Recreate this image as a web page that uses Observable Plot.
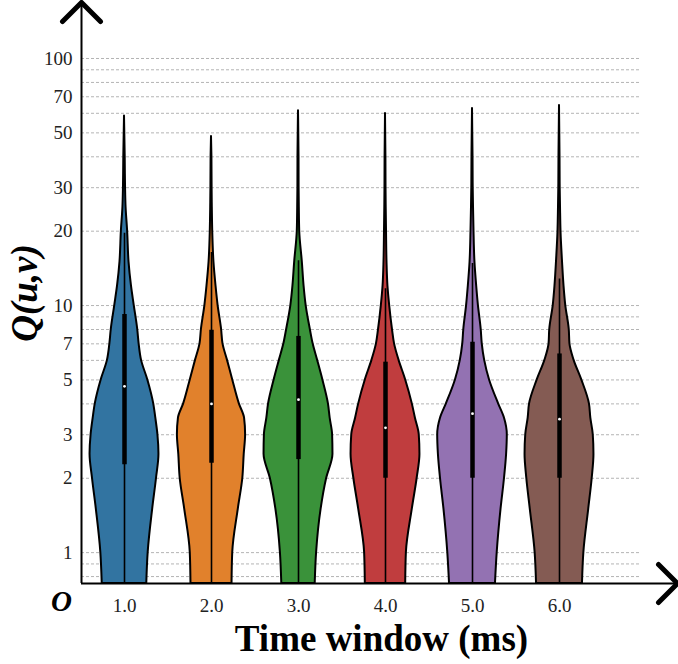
<!DOCTYPE html>
<html>
<head>
<meta charset="utf-8">
<script src="https://cdn.jsdelivr.net/npm/d3@7"></script>
<script src="https://cdn.jsdelivr.net/npm/@observablehq/plot@0.6"></script>
<style>
  html, body { margin: 0; padding: 0; background: #fff; }
</style>
</head>
<body>
<div id="chart"></div>
<script>
// ---- data ----
const categories = [1, 2, 3, 4, 5, 6];
const categoryLabels = ["1.0", "2.0", "3.0", "4.0", "5.0", "6.0"];
const colors = ["#3274a1", "#e1812c", "#3a923a", "#c03d3e", "#9372b2", "#845b53"];

// Q(u,v) values at which the violin widths were read
const qGrid = [0.75, 1, 1.5, 2, 2.5, 3, 3.5, 4, 5, 6, 7, 8, 10, 12, 15, 20, 25, 30, 40];
// top end of each violin
const qTop = [58.5, 48.3, 61.5, 59.9, 62.8, 64.5];
// relative density (violin half-width, 1 = widest)
const density1 = [0.64, 0.68, 0.81, 0.92, 0.99, 0.96, 0.90, 0.84, 0.67, 0.49, 0.42, 0.38, 0.28, 0.20, 0.13, 0.09, 0.045, 0.03, 0.02];
const density2 = [0.59, 0.61, 0.77, 0.90, 0.94, 0.98, 0.95, 0.80, 0.61, 0.46, 0.33, 0.29, 0.19, 0.13, 0.07, 0.035, 0.023, 0.017, 0.012];
const density3 = [0.48, 0.52, 0.65, 0.81, 0.99, 0.98, 0.91, 0.86, 0.70, 0.55, 0.42, 0.34, 0.22, 0.16, 0.11, 0.035, 0.023, 0.017, 0.015];
const density4 = [0.58, 0.60, 0.77, 0.91, 0.99, 0.97, 0.86, 0.77, 0.58, 0.39, 0.26, 0.20, 0.12, 0.07, 0.043, 0.029, 0.02, 0.015, 0.012];
const density5 = [0.66, 0.71, 0.82, 0.92, 0.98, 1.00, 0.92, 0.75, 0.49, 0.35, 0.28, 0.25, 0.17, 0.12, 0.07, 0.043, 0.029, 0.02, 0.015];
const density6 = [0.66, 0.70, 0.84, 0.94, 0.99, 0.97, 0.90, 0.86, 0.64, 0.42, 0.30, 0.28, 0.18, 0.13, 0.087, 0.043, 0.029, 0.02, 0.015];
const densities = [density1, density2, density3, density4, density5, density6];

// inner box statistics
const whiskerLow = [0.75, 0.75, 0.75, 0.75, 0.75, 0.75];
const quartile1 = [2.27, 2.3, 2.38, 2.0, 2.0, 2.0];
const median = [4.71, 4.0, 4.16, 3.2, 3.65, 3.47];
const quartile3 = [9.2, 7.95, 7.5, 5.9, 7.1, 6.37];
const whiskerHigh = [19.6, 16.4, 15.2, 11.7, 14.8, 12.8];

// axes
const yTickLabels = [1, 2, 3, 5, 7, 10, 20, 30, 50, 70, 100];
const yGridLines = [0.8, 0.9, 1, 2, 3, 4, 5, 6, 7, 8, 9, 10, 20, 30, 40, 50, 60, 70, 80, 90, 100];
const xDomain = [0.5057, 7.3563];
const yDomain = [0.75, 168.5];
const gridEnd = 6.93;
const halfWidth = 0.4; // seaborn width 0.8

// ---- build tables ----
const violinRows = [];
categories.forEach((c, i) => {
  qGrid.forEach((q, j) => violinRows.push({cat: c, color: colors[i], q, w: densities[i][j]}));
  violinRows.push({cat: c, color: colors[i], q: qTop[i], w: 0});
});
const boxRows = categories.map((c, i) => ({
  cat: c, lo: whiskerLow[i], q1: quartile1[i], med: median[i], q3: quartile3[i], hi: whiskerHigh[i]
}));

const chevron = {
  draw(context, size) {
    const s = Math.sqrt(size / Math.PI);
    context.moveTo(-s, s);
    context.lineTo(0, 0);
    context.lineTo(s, s);
  }
};

const serif = "'Liberation Serif', 'DejaVu Serif', serif";

const chart = Plot.plot({
  width: 678,
  height: 664,
  marginLeft: 81,
  marginRight: 1,
  marginTop: 2,
  marginBottom: 81,
  style: {fontFamily: serif, fontSize: "19px", color: "#222", background: "#fff"},
  x: {type: "linear", domain: xDomain, axis: null},
  y: {type: "log", domain: yDomain, axis: null},
  marks: [
    Plot.ruleY(yGridLines, {x1: xDomain[0], x2: gridEnd, stroke: "#b4b4b4", strokeWidth: 1, strokeDasharray: "3,2"}),
    Plot.areaX(violinRows, {
      y: "q",
      x1: d => d.cat - halfWidth * d.w,
      x2: d => d.cat + halfWidth * d.w,
      z: "cat",
      fill: d => d.color,
      stroke: "black",
      strokeWidth: 2,
      curve: "monotone-y"
    }),
    Plot.ruleX(boxRows, {x: "cat", y1: "lo", y2: "hi", stroke: "black", strokeWidth: 1.6}),
    Plot.ruleX(boxRows, {x: "cat", y1: "q1", y2: "q3", stroke: "black", strokeWidth: 4.5}),
    Plot.dot(boxRows, {x: "cat", y: "med", r: 1.4, fill: "white", stroke: null}),
    Plot.ruleX([xDomain[0]], {stroke: "black", strokeWidth: 2}),
    Plot.ruleY([yDomain[0]], {stroke: "black", strokeWidth: 2}),
    Plot.dot([0], {x: xDomain[0], y: yDomain[1], symbol: chevron, r: 19, fill: "none", stroke: "black", strokeWidth: 5, strokeLinecap: "round", strokeLinejoin: "round"}),
    Plot.dot([0], {x: xDomain[1], y: yDomain[0], symbol: chevron, r: 19, rotate: 90, fill: "none", stroke: "black", strokeWidth: 5, strokeLinecap: "round", strokeLinejoin: "round"}),
    Plot.axisY(yTickLabels, {tickSize: 0, tickPadding: 9, tickFormat: d => String(d), fontSize: 19, fill: "#222", label: null}),
    Plot.axisX(categories, {tickSize: 0, tickPadding: 15, tickFormat: (d, i) => categoryLabels[i], fontSize: 19, fill: "#222", label: null}),
    Plot.text(["Q(u,v)"], {frameAnchor: "left", dx: -56, rotate: -90, fontSize: 37, fontWeight: "bold", fontStyle: "italic", fill: "#000", textAnchor: "middle"}),
    Plot.text(["Time window (ms)"], {frameAnchor: "bottom", dx: 2, dy: 56, fontSize: 37, fontWeight: "bold", fill: "#000", textAnchor: "middle", lineAnchor: "middle"}),
    Plot.text(["O"], {frameAnchor: "bottom-left", dx: -20, dy: 18, fontSize: 29, fontWeight: "bold", fontStyle: "italic", fill: "#000", textAnchor: "middle", lineAnchor: "middle"})
  ]
});
document.getElementById("chart").appendChild(chart);
</script>
</body>
</html>
